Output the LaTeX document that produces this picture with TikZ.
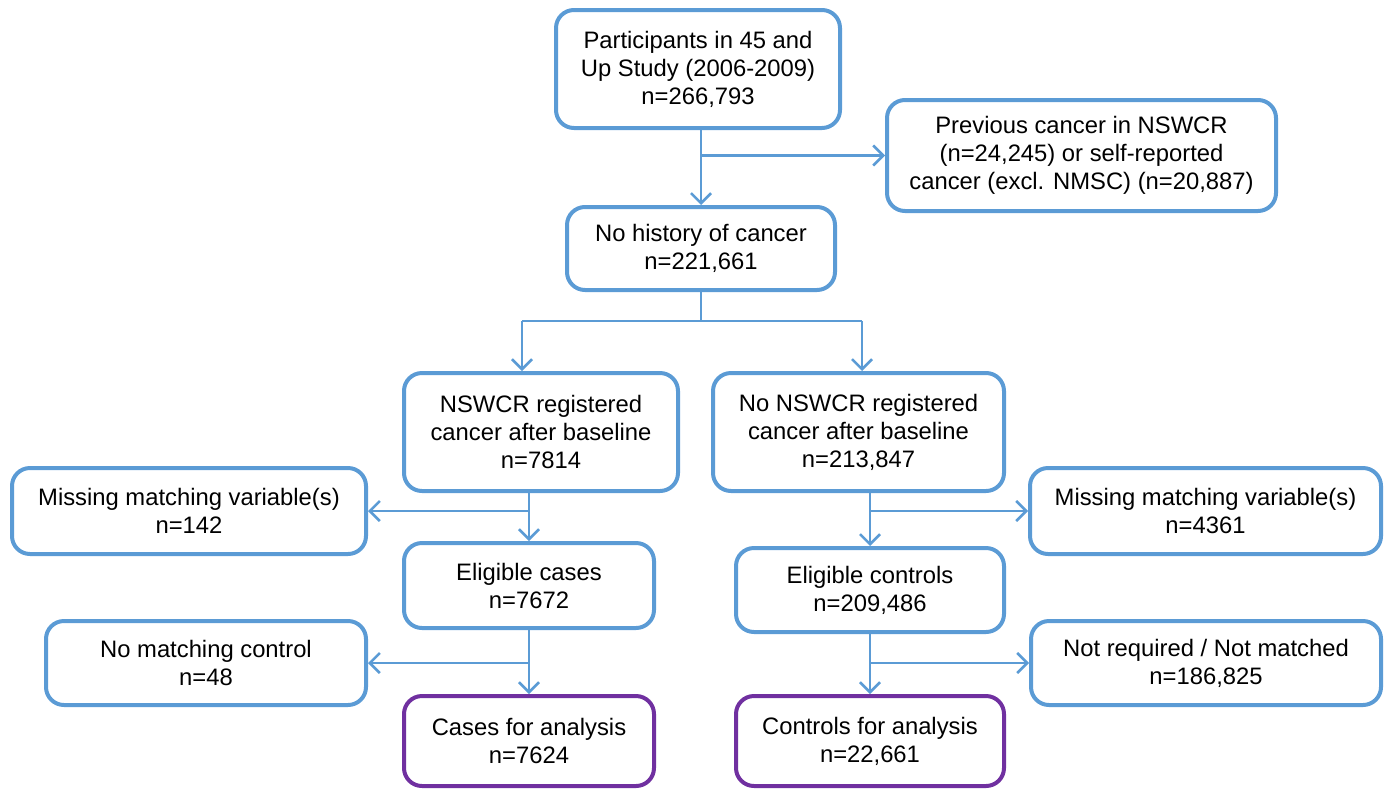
\documentclass[tikz,border=0pt]{standalone}
\usepackage{fontspec}
\setmainfont{Liberation Sans}
\usetikzlibrary{arrows.meta}
\definecolor{bxblue}{HTML}{5B9BD5}
\definecolor{bxpurple}{HTML}{7030A0}
\tikzset{
  box/.style={draw=bxblue, line width=2pt, rounded corners=9pt, align=center,
    inner sep=0pt, font=\fontsize{11.9}{14}\selectfont, text=black},
  pbox/.style={box, draw=bxpurple},
  conn/.style={draw=bxblue, line width=1.3pt, -{Straight Barb[length=5pt,width=10pt,line width=1.3pt]}},
  plainline/.style={draw=bxblue, line width=1.3pt},
}
\begin{document}
\begin{tikzpicture}[x=0.5pt,y=-0.5pt]
\useasboundingbox (0,0) rectangle (1386,788);
\node[box, minimum width=142pt, minimum height=59pt] (top) at (698,69)
  {Participants in 45 and\\Up Study (2006-2009)\\n=266,793};
\node[box, minimum width=194.5pt, minimum height=55.5pt] (prev) at (1081.5,155.5)
  {Previous cancer in NSWCR\\(n=24,245) or self-reported\\cancer (excl. NMSC) (n=20,887)};
\node[box, minimum width=134pt, minimum height=41.5pt] (nohist) at (701,248.5)
  {No history of cancer\\n=221,661};
\node[box, minimum width=137pt, minimum height=59pt] (nswcr) at (541,432)
  {NSWCR registered\\cancer after baseline\\n=7814};
\node[box, minimum width=145.5pt, minimum height=59pt] (nonsw) at (858.5,432)
  {No NSWCR registered\\cancer after baseline\\n=213,847};
\node[box, minimum width=177pt, minimum height=43pt] (miss1) at (189,511)
  {Missing matching variable(s)\\n=142};
\node[box, minimum width=125pt, minimum height=42.5pt] (cases) at (529,585.5)
  {Eligible cases\\n=7672};
\node[box, minimum width=175.5pt, minimum height=43pt] (miss2) at (1205.5,511)
  {Missing matching variable(s)\\n=4361};
\node[box, minimum width=134pt, minimum height=42pt] (ctrl) at (870,590)
  {Eligible controls\\n=209,486};
\node[box, minimum width=160pt, minimum height=42pt] (nomatch) at (206,663)
  {No matching control\\n=48};
\node[box, minimum width=175pt, minimum height=42pt] (notreq) at (1206,663)
  {Not required / Not matched\\n=186,825};
\node[pbox, minimum width=125pt, minimum height=45pt] (final1) at (529,741)
  {Cases for analysis\\n=7624};
\node[pbox, minimum width=134pt, minimum height=45pt] (final2) at (870,741)
  {Controls for analysis\\n=22,661};
% connectors
\draw[conn] (nohist.north |- top.south) -- (nohist.north);
\draw[conn] (nohist.north |- prev.west) -- (prev.west);
\coordinate (sL) at (522,321);
\coordinate (sR) at (862,321);
\draw[plainline] (nohist.south) -- (nohist.south |- sL);
\draw[plainline] (sL) -- (sR);
\draw[conn] (sL) -- (sL |- nswcr.north);
\draw[conn] (sR) -- (sR |- nonsw.north);
\draw[conn] (cases.north |- nswcr.south) -- (cases.north);
\draw[conn] (cases.north |- miss1.east) -- (miss1.east);
\draw[conn] (cases.south) -- (final1.north);
\draw[conn] (cases.south |- nomatch.east) -- (nomatch.east);
\draw[conn] (ctrl.north |- nonsw.south) -- (ctrl.north);
\draw[conn] (ctrl.north |- miss2.west) -- (miss2.west);
\draw[conn] (ctrl.south) -- (final2.north);
\draw[conn] (ctrl.south |- notreq.west) -- (notreq.west);
\end{tikzpicture}
\end{document}
